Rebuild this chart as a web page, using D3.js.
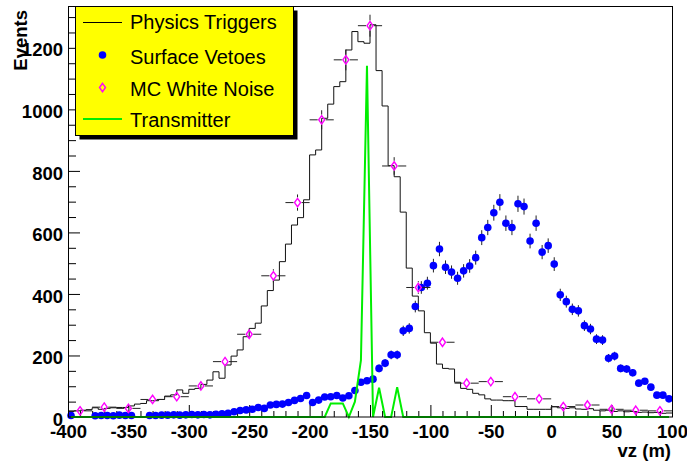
<!DOCTYPE html>
<html><head><meta charset="utf-8">
<script src="https://cdn.jsdelivr.net/npm/d3@7"></script>
<style>body{margin:0;background:#fff}svg{display:block}text{font-family:"Liberation Sans",Arial,Helvetica,sans-serif}</style>
</head><body>
<svg id="c" width="687" height="461"></svg>
<script>
// ---------- data ----------
const binStart = -400, binWidth = 5, binCount = 100;
const xTicksMajor = [-400,-350,-300,-250,-200,-150,-100,-50,0,50,100];
const yTicksMajor = [0,200,400,600,800,1000,1200];
const xTitle = "vz (m)";
const yTitle = "Events";
const legendLabels = ["Physics Triggers","Surface Vetoes","MC White Noise","Transmitter"];

// Physics Triggers histogram, one value per 5 m bin starting at -400
const physicsTriggers = [
  18,20,22,24,30, 25,28,30,31,31, 36,42,44,53,53, 57,68,72,88,77,
  90,93,106,120,147, 126,169,198,218,261, 288,305,361,411,445, 505,562,624,648,706,
  852,868,971,1017,1074, 1090,1193,1253,1220,1215, 1275,1126,1011,817,781, 666,484,393,345,274,
  240,172,158,156,113, 93,90,77,72,59, 55,55,53,53,34, 34,25,25,25,25,
  33,30,28,30,26, 25,27,22,20,22, 18,20,17,18,15, 16,14,15,12,13
];
// Surface Vetoes, same binning (null = empty bin)
const surfaceVetoes = [
  5,null,null,null,4, 5,5,4,6,5, 5,null,null,5,5, 6,6,7,6,7,
  8,7,8,7,9, 10,12,17,21,23, 25,31,28,39,41, 42,47,54,60,70,
  47,55,65,66,70, 62,69,86,113,118, 123,158,175,202,202, 280,288,359,421,435,
  492,546,487,471,451, 475,491,518,583,616, 664,698,630,616,693, 684,572,630,536,557,
  497,397,375,350,345, 297,286,253,250,191, 198,158,156,144,110, 116,97,71,71,59
];
// MC White Noise (20 m bins)
const mcCenters = [-390,-370,-350,-330,-310,-290,-270,-250,-230,-210,-190,-170,-150,-130,-110,-90,-70,-50,-30,-10,10,30,50,70,90];
const mcWhiteNoise = [20,32,28,57,66,101,180,269,459,697,966,1161,1272,816,421,243,110,115,66,59,34,39,25,22,20];
const mcHalfWidth = 10;
// Transmitter, same 5 m binning as the data
const transmitter = [
  0,0,0,0,0,0,0,0,0,0, 0,0,0,0,0,0,0,0,0,0,
  0,0,0,0,0,0,0,0,0,0, 0,0,0,0,0,0,0,0,0,0,
  0,0,0,44,44,44,0,50,185,1142, 0,95,0,0,97,0,0,0,0,0,
  0,0,0,0,0,0,0,0,0,0, 0,0,0,0,0,0,0,0,0,0,
  0,0,0,0,0,0,0,0,0,0, 0,0,0,0,0,0,0,0,0,0
];

// ---------- setup ----------
const svg = d3.select("#c");
const x = d3.scaleLinear().domain([-400,100]).range([68,672]);
const y = d3.scaleLinear().domain([0,1336]).range([417,6]);
const lowEdges = d3.range(binCount).map(i => binStart + i*binWidth);
const centers = lowEdges.map(e => e + binWidth/2);
const FONT = 18.5;
const GREEN = "#00ee00", BLUE = "#0000ff", MAG = "#ff00ff";

svg.append("rect").attr("x",68).attr("y",6).attr("width",604).attr("height",411).attr("fill","#fff");

// ---------- axes ----------
const xMinor = d3.range(-400,101,10).filter(v => !xTicksMajor.includes(v));
svg.append("g").attr("transform","translate(0,417)")
  .call(d3.axisBottom(x).tickValues(xMinor).tickSize(-6).tickFormat(""))
  .call(g => g.select(".domain").remove());
const gx = svg.append("g").attr("transform","translate(0,417)")
  .call(d3.axisBottom(x).tickValues(xTicksMajor).tickSize(-12).tickPadding(8).tickFormat(d3.format("d")))
  .call(g => g.select(".domain").remove());
gx.selectAll("text").attr("font-size",FONT).attr("font-weight","bold").attr("fill","#000")
  .text(d => String(d));

const yMinor = d3.range(0,1336,50).filter(v => !yTicksMajor.includes(v));
svg.append("g").attr("transform","translate(68,0)")
  .call(d3.axisLeft(y).tickValues(yMinor).tickSize(-8).tickFormat(""))
  .call(g => g.select(".domain").remove());
const gy = svg.append("g").attr("transform","translate(68,0)")
  .call(d3.axisLeft(y).tickValues(yTicksMajor).tickSize(-12).tickPadding(5).tickFormat(d3.format("d")))
  .call(g => g.select(".domain").remove());
gy.selectAll("text").attr("font-size",FONT).attr("font-weight","bold").attr("fill","#000").attr("dy","0.44em");
svg.selectAll(".tick line").attr("stroke","#000");

// ---------- Physics Triggers histogram ----------
const histPts = lowEdges.map((e,i) => [e, physicsTriggers[i]]);
histPts.push([binStart + binCount*binWidth, physicsTriggers[binCount-1]]);
svg.append("path")
  .attr("d", d3.line().x(d => x(d[0])).y(d => y(d[1])).curve(d3.curveStepAfter)(histPts))
  .attr("fill","none").attr("stroke","#111").attr("stroke-width",1);

// ---------- Surface Vetoes ----------
const sv = centers.map((c,i) => ({c, v: surfaceVetoes[i]})).filter(d => d.v !== null);
svg.append("g").selectAll("line").data(sv).join("line")
  .attr("x1", d => x(d.c)).attr("x2", d => x(d.c))
  .attr("y1", d => y(d.v + Math.sqrt(d.v))).attr("y2", d => y(Math.max(0, d.v - Math.sqrt(d.v))))
  .attr("stroke","#222").attr("stroke-width",1);
svg.append("g").selectAll("circle").data(sv).join("circle")
  .attr("cx", d => x(d.c)).attr("cy", d => y(d.v)).attr("r",3.8).attr("fill",BLUE);

// ---------- MC White Noise ----------
const mc = mcCenters.map((c,i) => ({c, v: mcWhiteNoise[i]}));
const gm = svg.append("g");
const dW = 3, dH = 4.2;
mc.forEach(d => {
  const cx = x(d.c), cy = y(d.v), e = Math.sqrt(d.v);
  const xl = x(d.c - mcHalfWidth), xr = x(d.c + mcHalfWidth);
  gm.append("line").attr("x1",xl).attr("x2",cx-dW-1).attr("y1",cy).attr("y2",cy).attr("stroke","#222");
  gm.append("line").attr("x1",cx+dW+1).attr("x2",xr).attr("y1",cy).attr("y2",cy).attr("stroke","#222");
  const yt = y(d.v + e), yb = y(Math.max(0, d.v - e));
  if (cy - yt > dH + 1) gm.append("line").attr("x1",cx).attr("x2",cx).attr("y1",yt).attr("y2",cy-dH-1).attr("stroke","#222");
  if (yb - cy > dH + 1) gm.append("line").attr("x1",cx).attr("x2",cx).attr("y1",cy+dH+1).attr("y2",yb).attr("stroke","#222");
  gm.append("path").attr("d",`M${cx},${cy-dH}L${cx+dW},${cy}L${cx},${cy+dH}L${cx-dW},${cy}Z`)
    .attr("fill","none").attr("stroke",MAG).attr("stroke-width",1.4);
});

// ---------- Transmitter ----------
svg.append("path")
  .attr("d", d3.line().x((d,i) => x(centers[i])).y(d => y(d))(transmitter))
  .attr("fill","none").attr("stroke",GREEN).attr("stroke-width",2);

// ---------- frame ----------
svg.append("rect").attr("x",68.5).attr("y",6.5).attr("width",604).attr("height",410.5)
  .attr("fill","none").attr("stroke","#000").attr("stroke-width",1);

// ---------- titles ----------
svg.append("text").attr("transform","translate(26.5,10) rotate(-90)").attr("text-anchor","end")
  .attr("font-size",FONT).attr("font-weight","bold").text(yTitle);
svg.append("text").attr("x",671).attr("y",457).attr("text-anchor","end")
  .attr("font-size",FONT).attr("font-weight","bold").text(xTitle);

// ---------- legend ----------
const lg = svg.append("g");
lg.append("rect").attr("x",79.5).attr("y",10.5).attr("width",218).attr("height",129).attr("fill","#000");
lg.append("rect").attr("x",75.5).attr("y",6.5).attr("width",218).attr("height",129).attr("fill","#ffff00").attr("stroke","#000");
const symY = [22.5, 55, 87.5, 119];
const txtY = [29, 64, 95.5, 127];
legendLabels.forEach((t,i) => {
  lg.append("text").attr("x",130).attr("y",txtY[i]).attr("font-size",20).attr("fill","#000").text(t);
});
lg.append("line").attr("x1",83).attr("x2",122).attr("y1",symY[0]).attr("y2",symY[0]).attr("stroke","#000");
lg.append("circle").attr("cx",102.5).attr("cy",symY[1]).attr("r",3.8).attr("fill",BLUE);
lg.append("path").attr("d",`M102.5,${symY[2]-dH}L${102.5+dW},${symY[2]}L102.5,${symY[2]+dH}L${102.5-dW},${symY[2]}Z`)
  .attr("fill","none").attr("stroke",MAG).attr("stroke-width",1.4);
lg.append("line").attr("x1",83).attr("x2",122).attr("y1",symY[3]).attr("y2",symY[3]).attr("stroke",GREEN).attr("stroke-width",2);
</script>
</body></html>
